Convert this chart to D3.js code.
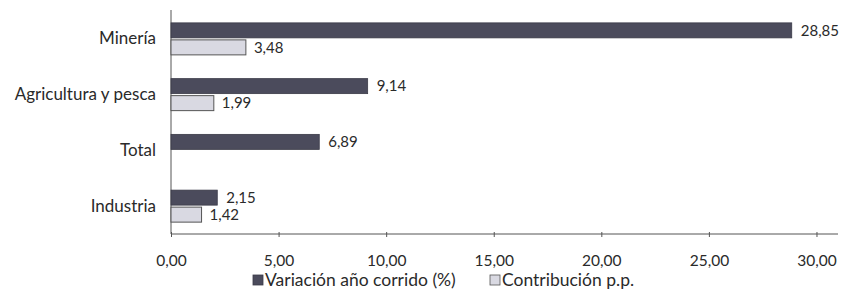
<!DOCTYPE html>
<html>
<head>
<meta charset="utf-8">
<title></title>
<style>
  body {margin: 0; background: #fff;}
  text {font-family: Lato, "Open Sans", sans-serif; fill: #2a2a2a;}
  .axis path, .axis line {stroke: #555;}
</style>
<script src="https://d3js.org/d3.v7.min.js"></script>
</head>
<body>
<div id="chart"></div>
<script>
// data
var categories = ["Minería", "Agricultura y pesca", "Total", "Industria"];
var variacion = [28.85, 9.14, 6.89, 2.15];
var contribucion = [3.48, 1.99, null, 1.42];
var xTicks = [0, 5, 10, 15, 20, 25, 30];
var seriesNames = ["Variación año corrido (%)", "Contribución p.p."];

var colorDark = "#4b4b5c",
    colorLight = "#d9d9e2";

var width = 841, height = 290;
var margin = {top: 11, right: 3, bottom: 56, left: 171};

var svg = d3.select("#chart").append("svg")
    .attr("width", width)
    .attr("height", height);

var x = d3.scaleLinear()
    .domain([0, 31])
    .range([margin.left, width - margin.right]);

var y = d3.scaleBand()
    .domain(categories)
    .range([margin.top, height - margin.bottom]);

var locale = d3.formatLocale({decimal: ",", thousands: ".", grouping: [3], currency: ["", ""]});
var fmt = locale.format(".2f");

var barH = 15;

// x axis
var xAxis = svg.append("g")
    .attr("class", "axis")
    .attr("transform", "translate(0," + (height - margin.bottom) + ")")
    .call(d3.axisBottom(x).tickValues(xTicks).tickFormat(fmt).tickSize(3).tickPadding(18));
xAxis.select(".domain").attr("d", "M" + x(0) + ",0H" + (width - margin.right));
xAxis.selectAll("line").attr("y1", -2);
xAxis.selectAll("text").style("font-size", "15.5px").style("fill", "#2a2a2a");

// y axis
var yAxis = svg.append("g")
    .attr("class", "axis")
    .attr("transform", "translate(" + x(0) + ",0)")
    .call(d3.axisLeft(y).tickSize(0).tickPadding(15));
yAxis.select(".domain").attr("d", "M0," + (margin.top - 1) + "V" + (height - margin.bottom));
yAxis.selectAll("text").style("font-size", "17px").style("fill", "#2a2a2a");

var rows = categories.map(function(c, i) { return {cat: c, v: variacion[i], c: contribucion[i]}; });

// dark bars
svg.append("g").selectAll("rect")
  .data(rows)
  .enter().append("rect")
    .attr("x", x(0))
    .attr("y", function(d) { return y(d.cat) + y.bandwidth() / 2 - barH - 1; })
    .attr("width", function(d) { return x(d.v) - x(0); })
    .attr("height", barH)
    .attr("fill", colorDark)
    .attr("stroke", "#3a3a48")
    .attr("stroke-width", 0.8);

// light bars
svg.append("g").selectAll("rect")
  .data(rows.filter(function(d) { return d.c != null; }))
  .enter().append("rect")
    .attr("x", x(0))
    .attr("y", function(d) { return y(d.cat) + y.bandwidth() / 2 + 1; })
    .attr("width", function(d) { return x(d.c) - x(0); })
    .attr("height", barH)
    .attr("fill", colorLight)
    .attr("stroke", "#555")
    .attr("stroke-width", 1);

// value labels
svg.append("g").selectAll("text")
  .data(rows)
  .enter().append("text")
    .attr("x", function(d) { return x(d.v) + 9; })
    .attr("y", function(d) { return y(d.cat) + y.bandwidth() / 2 - barH / 2 - 1; })
    .attr("dy", "0.35em")
    .style("font-size", "15px")
    .text(function(d) { return fmt(d.v); });

svg.append("g").selectAll("text")
  .data(rows.filter(function(d) { return d.c != null; }))
  .enter().append("text")
    .attr("x", function(d) { return x(d.c) + 8; })
    .attr("y", function(d) { return y(d.cat) + y.bandwidth() / 2 + barH / 2 + 1; })
    .attr("dy", "0.35em")
    .style("font-size", "15px")
    .text(function(d) { return fmt(d.c); });

// legend
var legend = svg.append("g").attr("transform", "translate(253,280)");
var legendX = [0, 237];
var legendColors = [colorDark, colorLight];
seriesNames.forEach(function(name, i) {
  legend.append("rect")
    .attr("x", legendX[i])
    .attr("y", -5)
    .attr("width", 10)
    .attr("height", 10)
    .attr("fill", legendColors[i])
    .attr("stroke", i == 0 ? "#3a3a48" : "#555")
    .attr("stroke-width", 0.8);
  legend.append("text")
    .attr("x", legendX[i] + 12)
    .attr("y", 0)
    .attr("dy", "0.35em")
    .style("font-size", "17.5px")
    .text(name);
});
</script>
</body>
</html>
